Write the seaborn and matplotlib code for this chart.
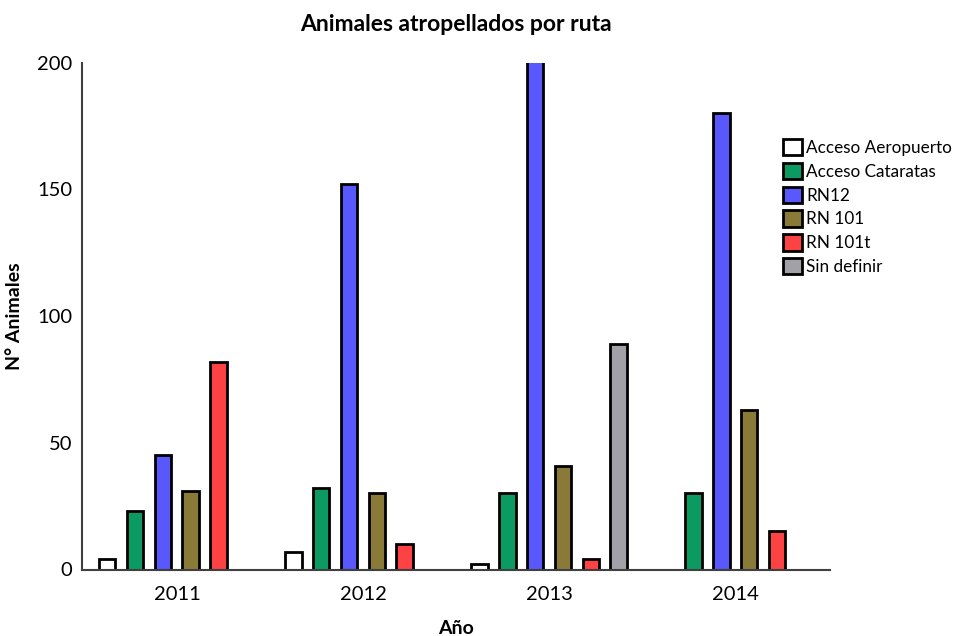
import numpy as np
import pandas as pd
import matplotlib
matplotlib.use("Agg")
import matplotlib.pyplot as plt
import seaborn as sns
from matplotlib.patches import Patch

years = ["2011", "2012", "2013", "2014"]
routes = ["Acceso Aeropuerto", "Acceso Cataratas", "RN12", "RN 101", "RN 101t", "Sin definir"]
acceso_aeropuerto = [4, 7, 2, None]
acceso_cataratas = [23, 32, 30, 30]
rn12 = [45, 152, 215, 180]
rn101 = [31, 30, 41, 63]
rn101t = [82, 10, 4, 15]
sin_definir = [None, None, 89, None]
colors = ["#FFFFFF", "#0A9A62", "#5858FC", "#8A7A38", "#FC4242", "#A2A1A8"]

series = [acceso_aeropuerto, acceso_cataratas, rn12, rn101, rn101t, sin_definir]
rows = []
for r, vals in zip(routes, series):
    for y, v in zip(years, vals):
        if v is not None:
            rows.append({"Año": y, "Ruta": r, "N": v})
df = pd.DataFrame(rows)

sns.set_theme(style="white")
plt.rcParams['font.family'] = ['Lato', 'DejaVu Sans']
plt.rcParams['text.color'] = 'black'
plt.rcParams['axes.labelcolor'] = 'black'

fig = plt.figure(figsize=(9.64, 6.36), dpi=100)
ax = fig.add_axes([82/964, 1 - 569.5/636, (830-82)/964, (569.5-62.5)/636])

sns.barplot(data=df, x="Año", y="N", hue="Ruta", order=years, hue_order=routes,
            palette=colors, width=0.9, gap=0.4, dodge=True, errorbar=None,
            edgecolor="black", linewidth=2, saturation=1, ax=ax, legend=False)

ax.set_ylim(0, 200)
ax.set_xlim(-0.51, 3.51)
ax.set_yticks([0, 50, 100, 150, 200])
for s in ["top", "right"]:
    ax.spines[s].set_visible(False)
for s in ["left", "bottom"]:
    ax.spines[s].set_color("#404040")
    ax.spines[s].set_linewidth(1.5)
ax.tick_params(axis="both", which="both", length=6, width=1.2, color="#404040",
               labelsize=14.5, labelcolor="black", direction="out")
ax.tick_params(axis="x", pad=6)
ax.tick_params(axis="y", pad=1)
ax.set_xlabel("Año", fontsize=14, fontweight="bold", labelpad=12, color="black")
ax.set_ylabel("N° Animales", fontsize=14, fontweight="bold", labelpad=10, color="black")
ax.set_title("Animales atropellados por ruta", fontsize=16.5, fontweight="bold", pad=23,
             color="black")

handles = [Patch(facecolor=c, edgecolor="black", linewidth=2) for c in colors]
leg = ax.legend(handles, routes, loc="upper left", bbox_to_anchor=(776/964, 1 - 132/636),
                bbox_transform=fig.transFigure, frameon=False, fontsize=12.3,
                handlelength=1.1, handleheight=1.1, handletextpad=0.25, labelspacing=0.4,
                borderaxespad=0)
for t in leg.get_texts():
    t.set_color("black")

fig.savefig("out.png", dpi=100)
